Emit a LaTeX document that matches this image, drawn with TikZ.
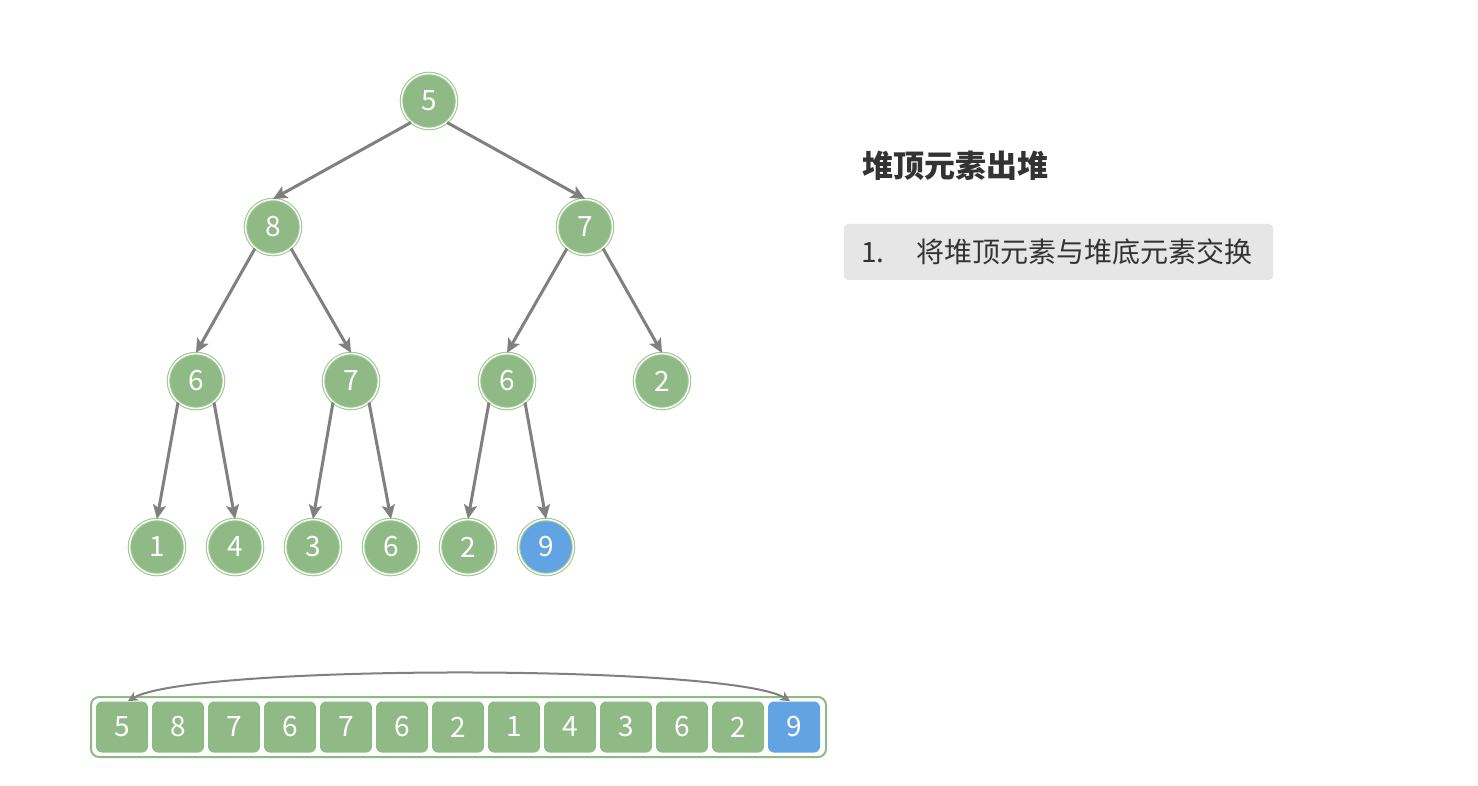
\documentclass[tikz,border=0pt]{standalone}
\usepackage{fontspec}
\setmainfont{Noto Sans CJK SC}
\usetikzlibrary{arrows.meta,positioning}
\definecolor{heapgreen}{RGB}{143,186,134}
\definecolor{ringgreen}{RGB}{160,200,150}
\definecolor{heapblue}{RGB}{98,163,228}
\definecolor{edgegray}{RGB}{128,128,128}
\definecolor{notegray}{RGB}{230,230,230}
\definecolor{textgray}{RGB}{51,51,51}
\tikzset{
  hnode/.style={circle,fill=heapgreen,draw=ringgreen,double=white,line width=.55pt,
    double distance=.7pt,minimum size=27.5pt,inner sep=0pt,text=white,
    font=\fontsize{14}{14}\selectfont},
  hcell/.style={rectangle,rounded corners=3pt,fill=heapgreen,minimum width=26pt,
    minimum height=25.5pt,inner sep=0pt,text=white,font=\fontsize{14}{14}\selectfont},
  tedge/.style={draw=edgegray,line width=1.5pt,-{Stealth[length=7pt,width=6.5pt,inset=1.5pt]}},
  swap/.style={draw=edgegray,line width=1pt,{Stealth[length=5pt,width=5pt]}-{Stealth[length=5pt,width=5pt]}}
}
\begin{document}
\begin{tikzpicture}[x=.5pt,y=-.5pt]
\useasboundingbox[fill=white] (0,0) rectangle (1478,786);
% tree
\foreach \i/\x/\y/\v in {0/429/101/5,1/273/227/8,2/585/227/7,3/196/381/6,4/351/381/7,
  5/507/381/6,6/662/381/2,7/157/547/1,8/235/547/4,9/313/547/3,10/391/547/6,11/468/547/2}
  \node[hnode] (n\i) at (\x,\y) {\v};
\node[hnode,fill=heapblue] (n12) at (546,547) {9};
\foreach \c/\p/\a in {1/0/-130,2/0/-50,3/1/-130,4/1/-50,5/2/-130,6/2/-50,
  7/3/-130,8/3/-50,9/4/-130,10/4/-50,11/5/-130,12/5/-50}
  \draw[tedge] (n\p.\a) -- (n\c.north);
% array
\draw[heapgreen,line width=1pt,rounded corners=4pt] (91,697) rectangle (826,757);
\foreach \v [count=\i from 0] in {5,8,7,6,7,6,2,1,4,3,6,2}
  \node[hcell] (a\i) at (122+56*\i,727) {\v};
\node[hcell,fill=heapblue] (a12) at (794,727) {9};
\draw[swap] ([xshift=3pt]a0.north) .. controls (190,664) and (730,664) .. ([xshift=-2pt]a12.north);
% note
\node[anchor=west,text=textgray,font=\fontsize{15.5}{15.5}\selectfont\bfseries] (title) at (855,166) {堆顶元素出堆};
\fill[notegray,rounded corners=2pt] (844,224) rectangle (1273,280);
\node[anchor=west,text=textgray,font=\fontsize{14}{14}\selectfont] (step1) at (854,252) {1.\hspace{16pt}将堆顶元素与堆底元素交换};
\end{tikzpicture}
\end{document}
